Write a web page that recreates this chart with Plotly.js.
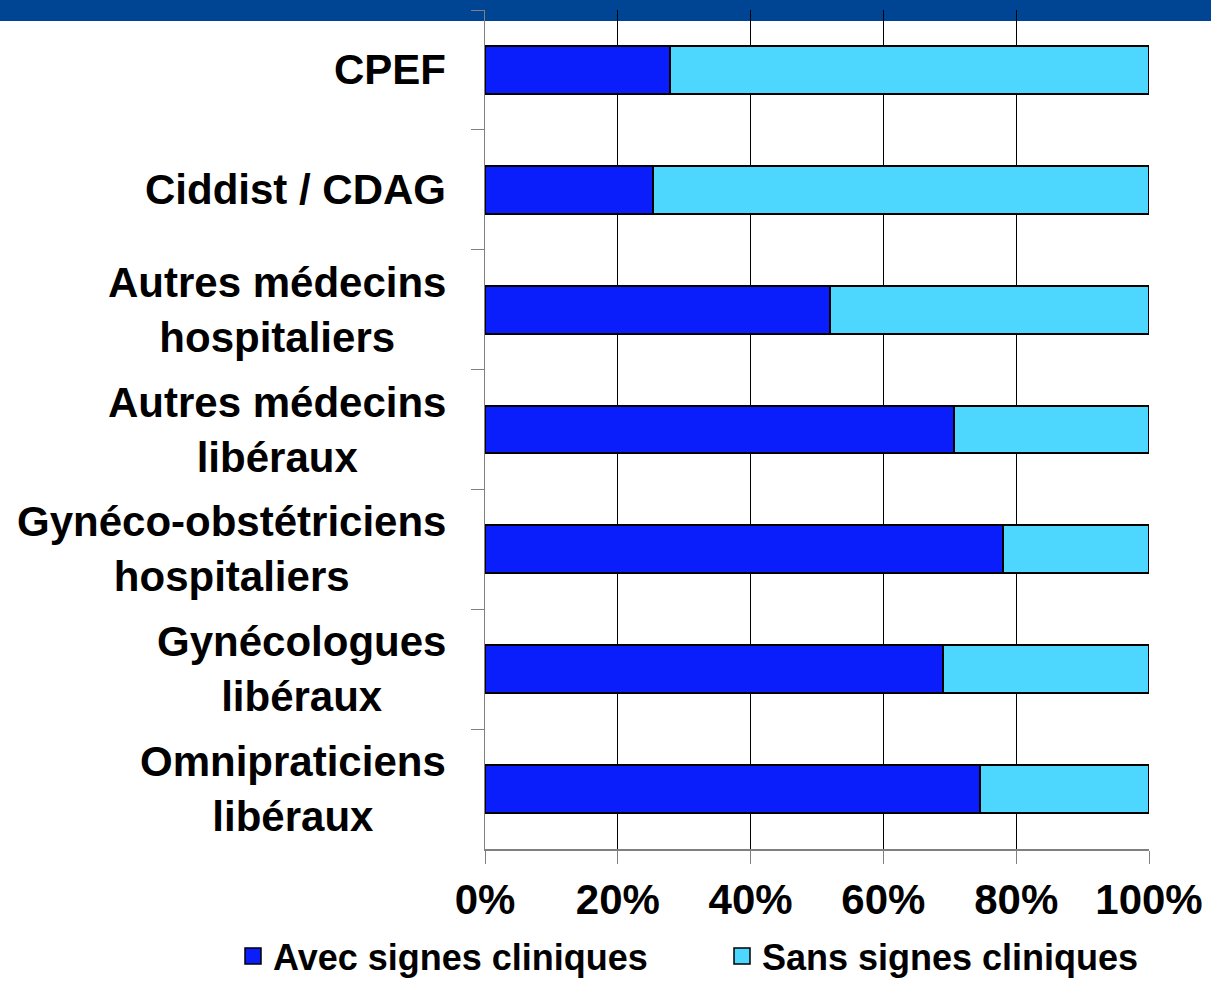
<!DOCTYPE html>
<html>
<head>
<meta charset="utf-8">
<script src="https://cdn.plot.ly/plotly-3.0.1.min.js"></script>
<style>
  html, body { margin: 0; padding: 0; background: #ffffff; }
  #chart { width: 1211px; height: 981px; }
</style>
</head>
<body>
<div id="chart"></div>
<script>
// ---- data ----
var categories = [
  "CPEF",
  "Ciddist / CDAG",
  "Autres médecins hospitaliers",
  "Autres médecins libéraux",
  "Gynéco-obstétriciens hospitaliers",
  "Gynécologues libéraux",
  "Omnipraticiens libéraux"
];
var categoryLabels = [
  "CPEF",
  "Ciddist / CDAG",
  "Autres médecins<br>hospitaliers",
  "Autres médecins<br>libéraux",
  "Gynéco-obstétriciens<br>hospitaliers",
  "Gynécologues<br>libéraux",
  "Omnipraticiens<br>libéraux"
];
var avecSignes = [27.8, 25.3, 51.9, 70.7, 78.0, 68.9, 74.6];
var sansSignes = avecSignes.map(function (v) { return Math.round((100 - v) * 10) / 10; });
var seriesNames = ["Avec signes cliniques", "Sans signes cliniques"];
var seriesColors = ["#0A1EFC", "#4DD6FE"];
var xTickValues = [0, 20, 40, 60, 80, 100];
var xTickLabels = ["0%", "20%", "40%", "60%", "80%", "100%"];

// ---- styling ----
var FONT = "'Liberation Sans', Arial, sans-serif";
var W = 1211, H = 981;
var M = { l: 485, r: 62, t: 10, b: 132, autoexpand: false };
var plotW = W - M.l - M.r, plotH = H - M.t - M.b;

var traces = [
  {
    type: "bar", orientation: "h", name: seriesNames[0],
    y: categories, x: avecSignes, showlegend: false,
    marker: { color: seriesColors[0], line: { color: "#000000", width: 2 } },
    hoverinfo: "name+x"
  },
  {
    type: "bar", orientation: "h", name: seriesNames[1],
    y: categories, x: sansSignes, showlegend: false,
    marker: { color: seriesColors[1], line: { color: "#000000", width: 2 } },
    hoverinfo: "name+x"
  }
];
// legend-only entries (larger square swatches, as in the reference)
seriesNames.forEach(function (n, i) {
  traces.push({
    type: "scatter", mode: "markers", name: n,
    x: [null], y: [null], showlegend: true, hoverinfo: "skip",
    marker: { symbol: "square", size: 16, color: seriesColors[i], line: { color: "#000000", width: 1.5 } }
  });
});

var annotations = categories.map(function (c, i) {
  return {
    xref: "paper", yref: "y", x: 0, y: c,
    xanchor: "right", yanchor: "middle", xshift: -37,
    text: categoryLabels[i], showarrow: false, align: "center",
    font: { family: FONT, size: 42, weight: "bold", color: "#000000" }
  };
});

var layout = {
  width: W, height: H,
  margin: M,
  font: { family: FONT, weight: "bold" },
  paper_bgcolor: "#ffffff",
  plot_bgcolor: "rgba(0,0,0,0)",
  barmode: "stack",
  bargap: 0.6,
  showlegend: true,
  legend: {
    orientation: "h", xref: "paper", yref: "paper",
    x: (233 - M.l) / plotW, xanchor: "left",
    y: -(926 - (M.t + plotH)) / plotH, yanchor: "top",
    entrywidth: 444, entrywidthmode: "pixels",
    traceorder: "normal", itemsizing: "trace",
    font: { family: FONT, size: 36, weight: "bold", color: "#000000" },
    bgcolor: "rgba(0,0,0,0)"
  },
  xaxis: {
    range: [0, 100], tickvals: xTickValues, ticktext: xTickLabels,
    showgrid: true, gridcolor: "#000000", gridwidth: 1,
    zeroline: false,
    showline: true, linecolor: "#808080", linewidth: 1.5,
    ticks: "outside", ticklen: 13, tickcolor: "#808080", tickwidth: 1,
    tickfont: { family: FONT, size: 42, weight: "bold", color: "#000000" },
    fixedrange: true
  },
  yaxis: {
    type: "category", categoryorder: "array", categoryarray: categories,
    autorange: "reversed",
    showticklabels: false,
    tickson: "boundaries",
    ticks: "outside", ticklen: 13, tickcolor: "#808080", tickwidth: 1,
    showgrid: false, zeroline: false,
    showline: true, linecolor: "#808080", linewidth: 1.5,
    fixedrange: true
  },
  annotations: annotations,
  shapes: [
    {
      type: "rect", layer: "below",
      xref: "paper", yref: "paper",
      x0: -M.l / plotW, x1: (W - M.l) / plotW,
      y0: 1 - (21 - M.t) / plotH, y1: 1 + M.t / plotH,
      fillcolor: "#004494", line: { width: 0 }
    }
  ]
};

Plotly.newPlot("chart", traces, layout, { displayModeBar: false, staticPlot: true });
</script>
</body>
</html>
